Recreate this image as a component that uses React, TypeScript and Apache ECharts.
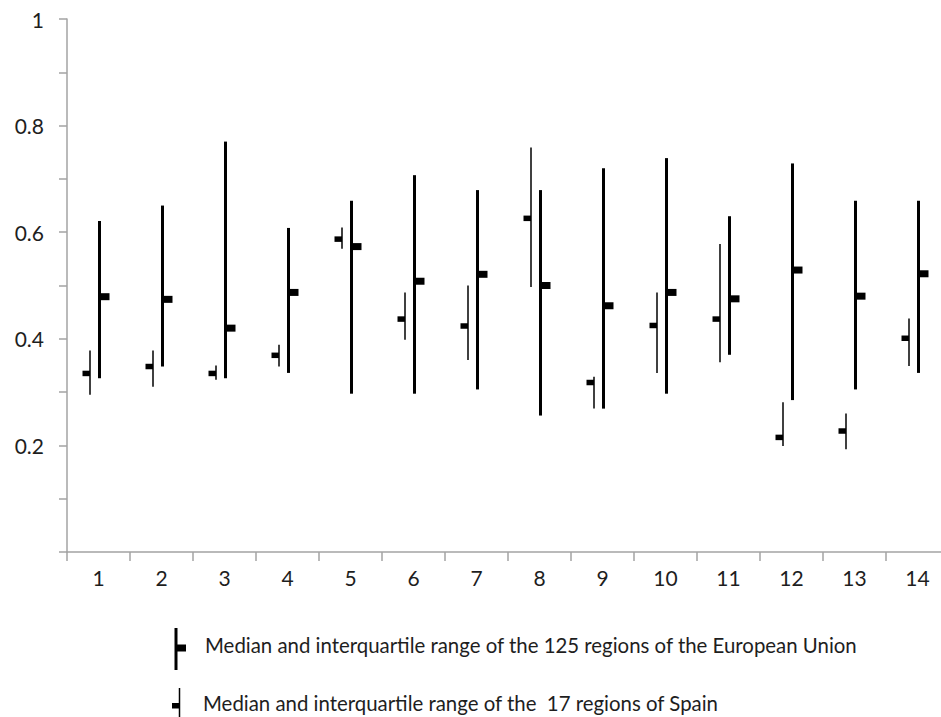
import React, { useEffect, useRef } from "react";
import * as echarts from "echarts";

const categories = ["1", "2", "3", "4", "5", "6", "7", "8", "9", "10", "11", "12", "13", "14"];

// EU: 125 regions — first quartile, median, third quartile
const euQ1 = [0.326, 0.348, 0.326, 0.336, 0.297, 0.297, 0.305, 0.256, 0.269, 0.297, 0.370, 0.285, 0.305, 0.336];
const euMedian = [0.479, 0.474, 0.420, 0.487, 0.573, 0.508, 0.521, 0.500, 0.462, 0.487, 0.475, 0.529, 0.480, 0.522];
const euQ3 = [0.621, 0.650, 0.770, 0.608, 0.659, 0.707, 0.679, 0.679, 0.720, 0.739, 0.630, 0.729, 0.659, 0.659];

// Spain: 17 regions — first quartile, median, third quartile
const esQ1 = [0.295, 0.310, 0.323, 0.348, 0.569, 0.398, 0.360, 0.497, 0.269, 0.336, 0.356, 0.199, 0.193, 0.349];
const esMedian = [0.335, 0.348, 0.335, 0.369, 0.587, 0.437, 0.424, 0.626, 0.318, 0.425, 0.437, 0.215, 0.227, 0.401];
const esQ3 = [0.378, 0.378, 0.350, 0.389, 0.609, 0.487, 0.500, 0.759, 0.329, 0.487, 0.578, 0.281, 0.260, 0.438];

const yTicks = [0, 0.2, 0.4, 0.6, 0.8, 1];

const legendEU = "Median and interquartile range of the 125 regions of the European Union";
const legendES = "Median and interquartile range of the  17 regions of Spain";

const AXIS_COLOR = "#a3a3a3";
const TEXT_COLOR = "#1e1e1e";
const FONT = "Lato, 'Open Sans', sans-serif";

function makeRender(offset: number, lineWidth: number, markLeft: boolean, markW: number, markH: number) {
  return (params: any, api: any) => {
    const idx = api.value(0);
    const low = api.coord([idx, api.value(1)]);
    const med = api.coord([idx, api.value(2)]);
    const high = api.coord([idx, api.value(3)]);
    const x = low[0] + offset;
    return {
      type: "group",
      children: [
        {
          type: "line",
          shape: { x1: x, y1: high[1], x2: x, y2: low[1] },
          style: { stroke: "#000", lineWidth },
        },
        {
          type: "rect",
          shape: {
            x: markLeft ? x - markW : x,
            y: med[1] - markH / 2,
            width: markW,
            height: markH,
          },
          style: { fill: "#000" },
        },
      ],
    };
  };
}

export default function App() {
  const ref = useRef<HTMLDivElement>(null);

  useEffect(() => {
    if (!ref.current) return;
    const chart = echarts.init(ref.current, undefined, { renderer: "svg" });

    const euData = categories.map((_, i) => [i, euQ1[i], euMedian[i], euQ3[i]]);
    const esData = categories.map((_, i) => [i, esQ1[i], esMedian[i], esQ3[i]]);

    chart.setOption({
      animation: false,
      backgroundColor: "#ffffff",
      grid: { left: 67, top: 19, width: 882, height: 533, containLabel: false, outerBoundsMode: "none" },
      xAxis: {
        type: "category",
        data: categories,
        boundaryGap: true,
        axisLine: { show: true, lineStyle: { color: AXIS_COLOR, width: 1.5 } },
        axisTick: { show: true, length: 9, alignWithLabel: false, lineStyle: { color: AXIS_COLOR, width: 1.5 } },
        axisLabel: { color: TEXT_COLOR, fontSize: 21, fontFamily: FONT, margin: 15 },
        splitLine: { show: false },
      },
      yAxis: {
        type: "value",
        min: yTicks[0],
        max: yTicks[yTicks.length - 1],
        interval: 0.2,
        axisLine: { show: true, lineStyle: { color: AXIS_COLOR, width: 1.5 } },
        axisTick: { show: true, length: 8, lineStyle: { color: AXIS_COLOR, width: 1.5 } },
        minorTick: { show: true, splitNumber: 2, length: 8, lineStyle: { color: AXIS_COLOR, width: 1.5 } },
        splitLine: { show: false },
        minorSplitLine: { show: false },
        axisLabel: {
          color: TEXT_COLOR,
          fontSize: 21,
          fontFamily: FONT,
          margin: 23,
          formatter: (v: number) => (v === 0 ? "" : String(+v.toFixed(1))),
        },
      },
      series: [
        {
          name: "Spain",
          type: "custom",
          renderItem: makeRender(-8.5, 1.5, true, 7.5, 5.5),
          encode: { x: 0, y: [1, 2, 3] },
          data: esData,
          clip: false,
        },
        {
          name: "EU",
          type: "custom",
          renderItem: makeRender(1, 3, false, 10, 7),
          encode: { x: 0, y: [1, 2, 3] },
          data: euData,
          clip: false,
        },
      ],
      graphic: [
        { type: "line", shape: { x1: 176, y1: 628, x2: 176, y2: 670 }, style: { stroke: "#000", lineWidth: 3 } },
        { type: "rect", shape: { x: 176, y: 644.5, width: 10, height: 7 }, style: { fill: "#000" } },
        {
          type: "text",
          x: 205,
          y: 645,
          style: { text: legendEU, fill: TEXT_COLOR, fontSize: 20.4, fontFamily: FONT, verticalAlign: "middle", align: "left" },
        },
        { type: "line", shape: { x1: 179.5, y1: 688, x2: 179.5, y2: 717 }, style: { stroke: "#000", lineWidth: 1.5 } },
        { type: "rect", shape: { x: 172, y: 703, width: 7.5, height: 5.5 }, style: { fill: "#000" } },
        {
          type: "text",
          x: 203,
          y: 703,
          style: { text: legendES, fill: TEXT_COLOR, fontSize: 20.4, fontFamily: FONT, verticalAlign: "middle", align: "left" },
        },
      ],
    });

    return () => chart.dispose();
  }, []);

  return (
    <div
      ref={ref}
      style={{ position: "fixed", left: 0, top: 0, width: 941, height: 717, background: "#fff" }}
    />
  );
}
